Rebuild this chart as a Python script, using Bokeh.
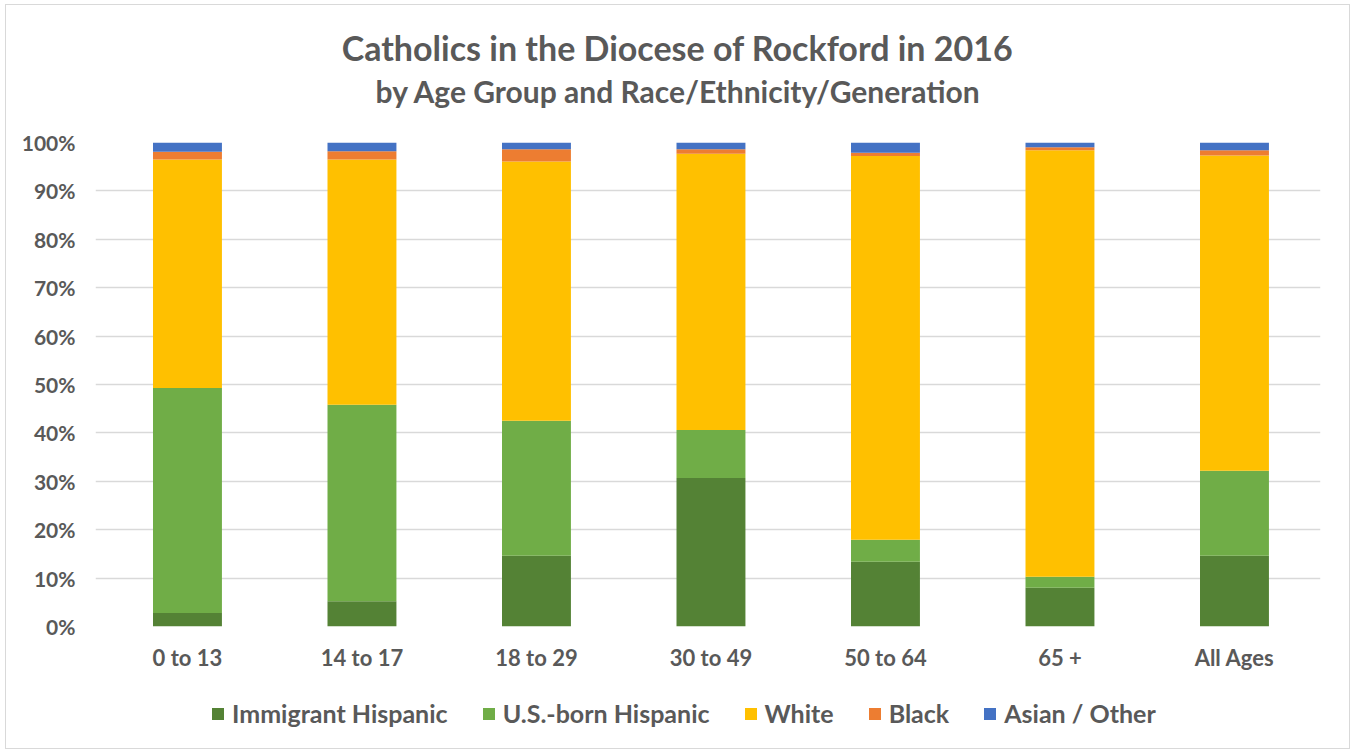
from bokeh.plotting import figure
from bokeh.layouts import column, row
from bokeh.models import (Range1d, SingleIntervalTicker, PrintfTickFormatter, Spacer,
                          Legend, LegendItem, ColumnDataSource, FixedTicker)
from bokeh.core.properties import value
from bokeh.embed import file_html
from bokeh.resources import INLINE

categories = ["0 to 13", "14 to 17", "18 to 29", "30 to 49", "50 to 64", "65 +", "All Ages"]
immigrant_hispanic = [2.8, 5.2, 14.6, 30.7, 13.4, 8.0, 14.6]
us_born_hispanic = [46.5, 40.6, 27.9, 9.9, 4.5, 2.3, 17.6]
white = [47.2, 50.7, 53.6, 57.1, 79.3, 88.1, 65.1]
black = [1.6, 1.7, 2.5, 0.9, 0.7, 0.6, 1.1]
asian_other = [1.9, 1.8, 1.4, 1.4, 2.1, 1.0, 1.6]

series_names = ["Immigrant Hispanic", "U.S.-born Hispanic", "White", "Black", "Asian / Other"]
series_keys = ["imm", "usb", "white", "black", "asian"]
colors = ["#548235", "#70AD47", "#FFC000", "#ED7D31", "#4472C4"]

title_text = "Catholics in the Diocese of Rockford in 2016"
subtitle_text = "by Age Group and Race/Ethnicity/Generation"

xs = list(range(len(categories)))
src = ColumnDataSource(dict(x=xs, imm=immigrant_hispanic, usb=us_born_hispanic,
                            white=white, black=black, asian=asian_other))

FONT = "Lato"
GREY = "#595959"
W = 1343
TH = 120
MH = 567
LH = 56

# ---- title strip (its frame is aligned with the chart frame by the column) ----
t = figure(width=W, height=TH, output_backend="svg", toolbar_location=None,
           x_range=Range1d(95, 1320), y_range=Range1d(0, TH),
           x_axis_type=None, y_axis_type=None, min_border=0)
t.outline_line_color = None
t.grid.grid_line_color = None
t.text(x=[677], y=[TH - 42], text=[title_text], text_align="center", text_baseline="middle",
       text_font=value(FONT), text_font_style="bold", text_font_size="34px", text_color=GREY)
t.text(x=[678], y=[TH - 85], text=[subtitle_text], text_align="center", text_baseline="middle",
       text_font=value(FONT), text_font_style="bold", text_font_size="30px", text_color=GREY)

# ---- main chart ----
p = figure(width=W, height=MH, output_backend="svg", toolbar_location=None,
           x_range=Range1d(-0.527, 6.493), y_range=Range1d(0, 100),
           min_border_left=89, min_border_right=29, min_border_top=17,
           min_border_bottom=66)
p.outline_line_color = None

p.vbar_stack(series_keys, x="x", width=0.395, source=src, color=colors, line_color=None)

p.yaxis.ticker = SingleIntervalTicker(interval=10)
p.yaxis.formatter = PrintfTickFormatter(format="%d%%")
p.xaxis.ticker = FixedTicker(ticks=xs)
p.xaxis.major_label_overrides = {i: c for i, c in enumerate(categories)}
for ax in (p.xaxis, p.yaxis):
    ax.axis_line_color = None
    ax.major_tick_line_color = None
    ax.minor_tick_line_color = None
    ax.major_label_text_font = FONT
    ax.major_label_text_font_style = "bold"
    ax.major_label_text_color = GREY
p.yaxis.major_label_text_font_size = "21px"
p.xaxis.major_label_text_font_size = "22px"
p.yaxis.major_label_standoff = 14
p.xaxis.major_label_standoff = 11

p.xgrid.grid_line_color = None
p.ygrid.grid_line_color = "#d9d9d9"
p.ygrid.grid_line_width = 1.5
p.ygrid.ticker = SingleIntervalTicker(interval=10)

# ---- legend strip ----
lg = figure(width=W, height=LH, output_backend="svg", toolbar_location=None,
            x_range=Range1d(-0.527, 6.493), y_range=Range1d(1000, 1001),
            x_axis_type=None, y_axis_type=None, min_border=0)
lg.outline_line_color = None
lg.grid.grid_line_color = None
lg_renderers = lg.vbar_stack(series_keys, x="x", width=0.395, source=src,
                             color=colors, line_color=None)
legend = Legend(items=[LegendItem(label=n, renderers=[r]) for n, r in zip(series_names, lg_renderers)],
                orientation="horizontal", location=(115, 20),
                glyph_width=15, glyph_height=15, label_standoff=7, spacing=33,
                padding=0, margin=0, border_line_color=None, background_fill_alpha=0,
                label_text_font=FONT, label_text_font_style="bold",
                label_text_font_size="25px", label_text_color=GREY)
lg.add_layout(legend)

chart = column(t, p, lg, spacing=0, styles={"border": "1px solid #d9d9d9"})
page = column(Spacer(width=10, height=4), row(Spacer(width=5, height=10), chart, spacing=0), spacing=0)
open("out.html", "w").write(file_html(page, INLINE))
